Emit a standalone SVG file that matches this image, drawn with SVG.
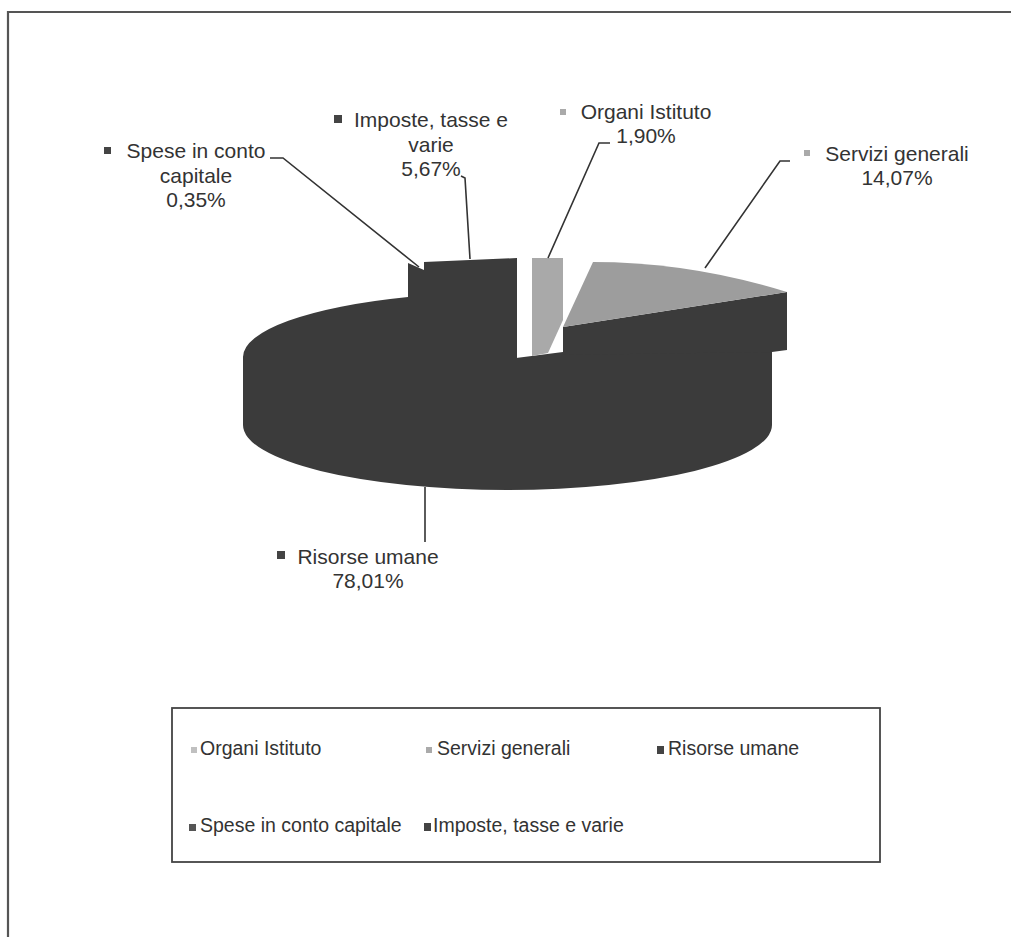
<svg xmlns="http://www.w3.org/2000/svg" width="1011" height="937" viewBox="0 0 1011 937">
<style>
.lbl{font-family:"Liberation Sans",Arial,sans-serif;font-size:21px;fill:#333;text-anchor:middle}
.leg{font-family:"Liberation Sans",Arial,sans-serif;font-size:19.5px;fill:#333}
.dark{fill:#3b3b3b}
.lead{fill:none;stroke:#333;stroke-width:1.6}
</style>
<rect width="1011" height="937" fill="#fff"/>
<g id="frame"><path d="M8,937 L8,12 L1011,12" fill="none" stroke="#555" stroke-width="2.2"/></g>
<g id="pie">
  <g id="slice-risorse"><path class="dark" d="M408,297 A264.5,65 0 0 0 243,357 L243,425 A264.5,65 0 0 0 772,425 L772,352 L563,352 L516,358 L408,358 Z"/></g>
  <g id="slice-spese"><polygon class="dark" points="408,263 424,270 428,270 428,358 408,358"/></g>
  <g id="slice-imposte"><polygon class="dark" points="424,262 517,258 517,358 424,358"/></g>
  <g id="slice-servizi">
    <polygon class="dark" points="563,327 787,292 787,350 772,352 563,355"/>
    <path d="M593,262 Q690,262 787,292 L563,327 Z" fill="#9d9d9d"/>
  </g>
  <g id="slice-organi"><polygon points="532,258 563,258 563,320 548,353 532,356" fill="#a9a9a9"/></g>
</g>
<g id="connectors">
  <path class="lead" d="M270,158 L283,158 L419,267"/>
  <path class="lead" d="M461,176 L465,178 L470,259"/>
  <path class="lead" d="M610,143 L599,143 L548,258"/>
  <path class="lead" d="M790,161 L780,161 L705,268"/>
  <path class="lead" d="M425,487 L425,542"/>
</g>
<g id="label-spese">
  <rect x="104" y="147" width="7" height="7" fill="#444"/>
  <text class="lbl" x="196" y="158">Spese in conto</text>
  <text class="lbl" x="196" y="183">capitale</text>
  <text class="lbl" x="196" y="207">0,35%</text>
</g>
<g id="label-imposte">
  <rect x="334" y="115" width="8" height="8" fill="#444"/>
  <text class="lbl" x="431" y="127">Imposte, tasse e</text>
  <text class="lbl" x="431" y="152">varie</text>
  <text class="lbl" x="431" y="176">5,67%</text>
</g>
<g id="label-organi">
  <rect x="560" y="109" width="6" height="6" fill="#aaa"/>
  <text class="lbl" x="646" y="119">Organi Istituto</text>
  <text class="lbl" x="646" y="143">1,90%</text>
</g>
<g id="label-servizi">
  <rect x="804" y="150" width="6" height="6" fill="#aaa"/>
  <text class="lbl" x="897" y="161">Servizi generali</text>
  <text class="lbl" x="897" y="185">14,07%</text>
</g>
<g id="label-risorse">
  <rect x="277" y="551" width="8" height="8" fill="#444"/>
  <text class="lbl" x="368" y="564">Risorse umane</text>
  <text class="lbl" x="368" y="588">78,01%</text>
</g>
<g id="legend">
  <rect x="172" y="708" width="708" height="154" fill="#fff" stroke="#444" stroke-width="1.8"/>
  <rect x="191" y="747" width="6" height="6" fill="#c0c0c0"/>
  <text class="leg" x="200" y="755">Organi Istituto</text>
  <rect x="426" y="747" width="6" height="6" fill="#aaa"/>
  <text class="leg" x="437" y="755">Servizi generali</text>
  <rect x="657" y="746" width="7" height="8" fill="#444"/>
  <text class="leg" x="668" y="755">Risorse umane</text>
  <rect x="189" y="824" width="7" height="7" fill="#555"/>
  <text class="leg" x="200" y="832">Spese in conto capitale</text>
  <rect x="424" y="823" width="7" height="8" fill="#444"/>
  <text class="leg" x="433" y="832">Imposte, tasse e varie</text>
</g>
</svg>
